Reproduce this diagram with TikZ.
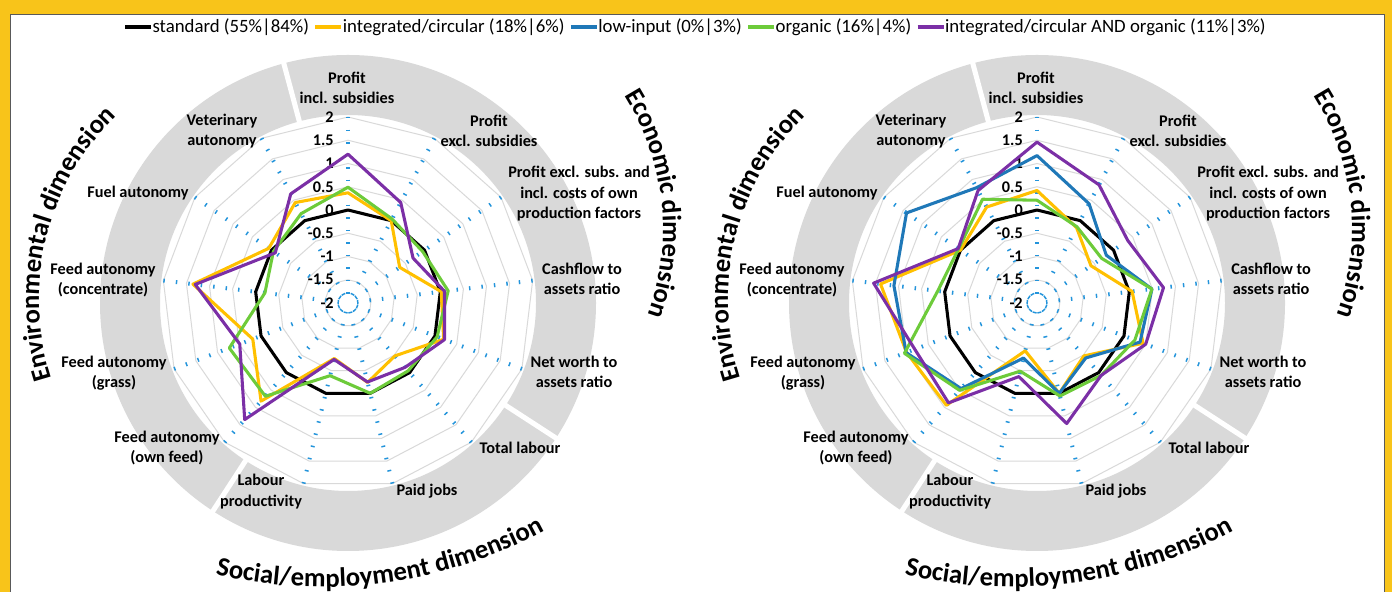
\documentclass[tikz,border=0pt]{standalone}
\usepackage{fontspec}
\setmainfont{Carlito}
\usetikzlibrary{decorations.text}
\definecolor{framegold}{HTML}{F8C41A}
\definecolor{framegray}{HTML}{595959}
\definecolor{bandgray}{HTML}{D9D9D9}
\definecolor{gridgray}{HTML}{D9D9D9}
\definecolor{tickblue}{HTML}{2394DB}
\definecolor{cstd}{HTML}{000000}
\definecolor{cint}{HTML}{FFC000}
\definecolor{clow}{HTML}{1F78B8}
\definecolor{corg}{HTML}{6DCB3A}
\definecolor{cboth}{HTML}{7B2FA6}
\newcommand\dimfont{\bfseries\fontsize{20}{24}\selectfont}
\newcommand\rseries[2]{%
  \foreach \v [count=\k from 0] in {#2}
    \coordinate (rp\k) at ({90-\k*360/13}:{(\v+2)*46.5});
  \draw[#1] (rp0) -- (rp1) -- (rp2) -- (rp3) -- (rp4) -- (rp5) -- (rp6) -- (rp7)
    -- (rp8) -- (rp9) -- (rp10) -- (rp11) -- (rp12) -- cycle;}
\newcommand\radarbase[1]{%
  \fill[bandgray, even odd rule] (0,0) circle[radius=248] (0,0) circle[radius=188];
  \foreach \a in {105,-33,-123} \draw[white, line width=3.8pt] (\a:182) -- (\a:254);
  \foreach \i in {1,...,8} \draw[gridline] (90:{\i*23.25}) \foreach \k in {1,...,12}{ -- ({90-\k*360/13}:{\i*23.25})} -- cycle;
  \foreach \k in {0,...,12} \draw[spoke] ({90-\k*360/13}:186) -- (0,0);
  \foreach \i/\t in {0/-2,1/-1.5,2/-1,3/-0.5,4/0,5/0.5,6/1,7/1.5,8/2}
    \node[ticklab] (#1t\i) at (-14,{\i*23.25}) {\t};
  \node[axlab] (#1a0) at (-1,215) {Profit\\incl. subsidies};
  \node[axlab] (#1a1) at (141,172) {Profit\\excl. subsidies};
  \node[axlab] (#1a2) at (231,109) {Profit excl. subs. and\\incl. costs of own\\production factors};
  \node[axlab] (#1a3) at (234,24) {Cashflow to\\assets ratio};
  \node[axlab] (#1a4) at (226,-69) {Net worth to\\assets ratio};
  \node[axlab] (#1a5) at (172,-145) {Total labour};
  \node[axlab] (#1a6) at (79,-188) {Paid jobs};
  \node[axlab] (#1a7) at (-87,-188.5) {Labour\\productivity};
  \node[axlab] (#1a8) at (-181,-145) {Feed autonomy\\(own feed)};
  \node[axlab] (#1a9) at (-234,-70) {Feed autonomy\\(grass)};
  \node[axlab] (#1a10) at (-245,23) {Feed autonomy\\(concentrate)};
  \node[axlab] (#1a11) at (-210,110) {Fuel autonomy};
  \node[axlab] (#1a12) at (-126,172) {Veterinary\\autonomy};
  \path[decorate, decoration={text along path, text={|\dimfont|Environmental dimension}, text align=center}]
    ([shift={(-53,3)}]226:256) arc[start angle=226, end angle=106, radius=256];
  \path[decorate, decoration={text along path, text={|\dimfont|Economic dimension}, text align=center}]
    ([shift={(62,74)}]66:253) arc[start angle=66, end angle=-54, radius=253];
  \path[decorate, decoration={text along path, text={|\dimfont|Social/employment dimension}, text align=center}]
    ([shift={(-25,178)}]-127.4:462) arc[start angle=-127.4, end angle=-37.4, radius=462];
}
\tikzset{
  gridline/.style={gridgray, line width=0.75pt},
  spoke/.style={tickblue, line width=3pt, dash pattern=on 1.1pt off 8.3pt},
  ticklab/.style={anchor=east, inner sep=0pt, font=\bfseries\fontsize{12.2}{14}\selectfont},
  axlab/.style={align=center, inner sep=0pt, font=\bfseries\fontsize{12.2}{15.4}\selectfont},
  ser/.style={line width=2.3pt, line join=round},
  legline/.style={line width=3pt},
  legtext/.style={anchor=west, inner sep=0pt, font=\fontsize{14.1}{16}\selectfont}
}
\begin{document}
\begin{tikzpicture}[x=0.75pt,y=0.75pt]
\useasboundingbox (0,0) rectangle (1392,592);
\fill[framegold] (0,0) rectangle (1392,592);
\filldraw[fill=white, draw=framegray, line width=0.75pt] (10,-2) rectangle (1384,577);
% legend
\coordinate (ls1) at (125,565);
\draw[cstd, legline] (ls1) -- ++(26,0) coordinate (le1);
\node[legtext] (lg1) at ([xshift=1]le1) {standard (55\%|84\%)};
\path (lg1.east) ++(6,0) coordinate (ls2);
\draw[cint, legline] (ls2) -- ++(26,0) coordinate (le2);
\node[legtext] (lg2) at ([xshift=1]le2) {integrated/circular (18\%|6\%)};
\path (lg2.east) ++(6,0) coordinate (ls3);
\draw[clow, legline] (ls3) -- ++(26,0) coordinate (le3);
\node[legtext] (lg3) at ([xshift=1]le3) {low-input (0\%|3\%)};
\path (lg3.east) ++(6,0) coordinate (ls4);
\draw[corg, legline] (ls4) -- ++(26,0) coordinate (le4);
\node[legtext] (lg4) at ([xshift=1]le4) {organic (16\%|4\%)};
\path (lg4.east) ++(6,0) coordinate (ls5);
\draw[cboth, legline] (ls5) -- ++(26,0) coordinate (le5);
\node[legtext] (lg5) at ([xshift=1]le5) {integrated/circular AND organic (11\%|3\%)};
% left chart
\begin{scope}[shift={(348,289)}]
  \radarbase{L}
  \rseries{ser, cstd}{0,0,0,0,0,0,0,0,0,0,0,0,0}
  \rseries{ser, cint}{0.37,0.0,-0.65,0.02,0.2,-0.48,-0.24,-0.77,0.82,0.19,1.36,0.07,0.44}
  \rseries{ser, corg}{0.49,0.04,-0.05,0.17,0.05,-0.05,0.0,-0.39,0.68,0.73,-0.2,-0.05,0.17}
  \rseries{ser, cboth}{1.2,0.44,-0.3,0.09,0.22,-0.15,-0.25,-0.75,1.35,0.49,1.31,-0.1,0.65}
\end{scope}
% right chart
\begin{scope}[shift={(1037,289)}]
  \radarbase{R}
  \rseries{ser, cstd}{0,0,0,0,0,0,0,0,0,0,0,0,0}
  \rseries{ser, cint}{0.42,-0.17,-0.59,0.06,0.44,-0.48,0.0,-0.94,0.94,1.0,1.39,0.0,0.33}
  \rseries{ser, clow}{1.17,0.41,-0.19,0.49,0.37,-0.42,0.0,-0.78,0.46,1.01,1.1,1.41,0.8}
  \rseries{ser, corg}{0.21,-0.15,-0.31,0.49,0.25,0.08,0.06,-0.49,0.51,1.05,0.15,0.05,0.52}
  \rseries{ser, cboth}{1.46,0.87,0.37,0.74,0.5,0.08,0.67,-0.37,0.87,0.81,1.54,0.06,0.73}
\end{scope}
\end{tikzpicture}
\end{document}
